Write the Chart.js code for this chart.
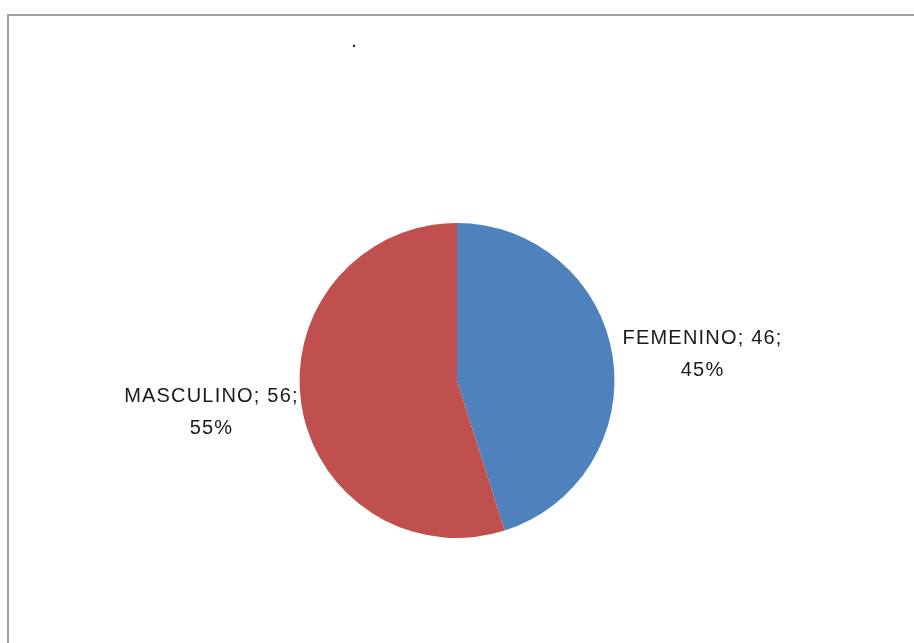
<!DOCTYPE html>
<html>
<head>
<meta charset="utf-8">
<script src="https://cdn.jsdelivr.net/npm/chart.js@4"></script>
<style>
    html, body { margin: 0; padding: 0; background: #fff; }
    #wrap { position: relative; width: 914px; height: 643px; }
    #frame {
        position: absolute; left: 7px; top: 14px; right: 0; bottom: 0;
        border-top: 2px solid #a0a0a0; border-left: 2px solid #a0a0a0;
    }
    canvas { position: absolute; left: 0; top: 0; }
</style>
</head>
<body>
<div id="wrap">
    <div id="frame"></div>
    <canvas id="myChart" width="914" height="643"></canvas>
</div>
<script>
const categories = ['FEMENINO', 'MASCULINO'];
const values = [46, 56];
const percentLabels = ['45%', '55%'];
const sliceColors = ['#4F81BD', '#C0504D'];

// labels outside the pie, like Excel's "best fit"
const outsideLabels = {
    id: 'outsideLabels',
    afterDatasetsDraw(chart) {
        let ctx = chart.ctx;
        let meta = chart.getDatasetMeta(0);
        ctx.save();
        ctx.font = '20px "Liberation Sans", Arial, sans-serif';
        ctx.letterSpacing = '1.2px';
        ctx.fillStyle = '#1a1a1a';
        ctx.textAlign = 'center';
        ctx.textBaseline = 'middle';
        meta.data.forEach((arc, i) => {
            let mid = (arc.startAngle + arc.endAngle) / 2;
            let x = arc.x + Math.cos(mid) * (arc.outerRadius + 91);
            let y = arc.y + Math.sin(mid) * 190;
            ctx.fillText(categories[i] + '; ' + values[i] + ';', x, y - 13);
            ctx.fillText(percentLabels[i], x, y + 19);
        });
        // stray dot where the title would be
        ctx.letterSpacing = '0px';
        ctx.fillText('.', 354, 41);
        ctx.restore();
    }
};

new Chart(document.getElementById('myChart'), {
    type: 'pie',
    data: {
        labels: categories,
        datasets: [{
            data: values,
            backgroundColor: sliceColors,
            borderWidth: 0
        }]
    },
    options: {
        responsive: false,
        animation: false,
        layout: { padding: { top: 223, bottom: 105, left: 0, right: 0 } },
        plugins: {
            legend: { display: false },
            tooltip: { enabled: false }
        }
    },
    plugins: [outsideLabels]
});
</script>
</body>
</html>
